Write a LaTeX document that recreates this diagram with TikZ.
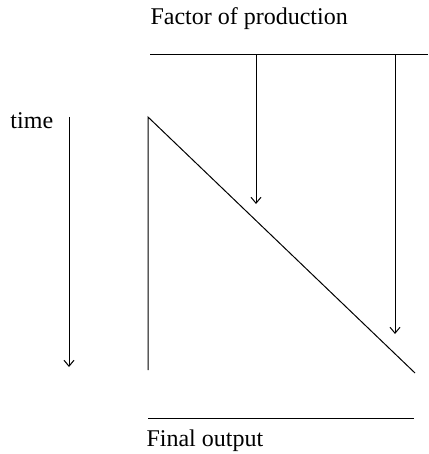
\documentclass[tikz,border=0pt]{standalone}
\usepackage{fontspec}
\setmainfont{Liberation Serif}
\usepackage{tikz}
\usetikzlibrary{arrows.meta}

\begin{document}
\begin{tikzpicture}[
    x=0.5pt,
    y=-0.5pt,
    font=\fontsize{12}{14}\selectfont,
    >={Straight Barb[length=3pt,width=5pt]},
    txt/.style={
      inner sep=0pt,
      anchor=base west
    },
    every path/.style={line width=0.5pt}
  ]
  \useasboundingbox (0,0) rectangle (428,454);

  % ========== Labels ==========
  \node[txt] (fop) at (150,25) {Factor of production};
  \node[txt] (tm) at (10,129) {time};
  \node[txt] (fo) at (146,446) {Final output};

  % ========== Factor input line ==========
  \coordinate (ta) at (150,55);
  \coordinate (tb) at (428,55);
  \coordinate (f1) at (256,55);
  \coordinate (f1e) at (256,204);
  \coordinate (f2) at (395,55);
  \coordinate (f2e) at (395,334);

  \draw (ta)--(tb);
  \draw[->] (f1)--(f1e);
  \draw[->] (f2)--(f2e);

  % ========== Time axis ==========
  \coordinate (t0) at (69,117);
  \coordinate (t1) at (69,367);
  \draw[->] (t0)--(t1);

  % ========== Production triangle ==========
  \coordinate (p0) at (148,117);
  \coordinate (p1) at (148,370);
  \coordinate (p2) at (415,373);
  \draw (p1)--(p0)--(p2);

  % ========== Output line ==========
  \coordinate (oa) at (148,418);
  \coordinate (ob) at (414,418);
  \draw (oa)--(ob);
\end{tikzpicture}
\end{document}
